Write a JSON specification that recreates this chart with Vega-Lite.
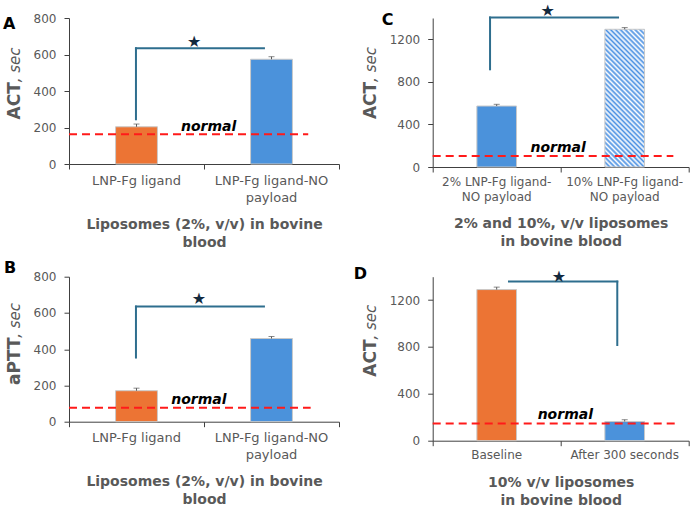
{
  "$schema": "https://vega.github.io/schema/vega-lite/v6.json",
  "background": "white",
  "padding": {"left": 3, "top": 3, "right": 5, "bottom": 3},
  "bounds": "flush",
  "columns": 2,
  "spacing": {"row": 109.7, "column": 93.7},
  "config": {"font": "DejaVu Sans", "view": {"stroke": null}},
  "concat": [
    {
      "width": 270, "height": 146,
      "title": {"text": "A", "anchor": "start", "frame": "group", "fontSize": 16, "fontWeight": "bold", "color": "#000000", "baseline": "top", "offset": 0, "dx": -66, "dy": 19.5},
      "data": {"values": [{"normal": 163}]},
      "resolve": {"scale": {"x": "independent"}, "axis": {"x": "independent", "y": "independent"}},
      "layer": [
        {
          "data": {"values": [
            {"group": "LNP-Fg ligand", "value": 204, "upper": 219},
            {"group": "LNP-Fg ligand-NO payload", "value": 574, "upper": 588}
          ]},
          "mark": {"type": "bar", "stroke": "#C9C9C9", "strokeWidth": 1},
          "encoding": {
            "x": {"field": "group", "type": "nominal", "sort": null,
              "scale": {"domain": ["LNP-Fg ligand", "LNP-Fg ligand-NO payload"], "paddingInner": 0.69, "paddingOuter": 0.345},
              "axis": {"title": ["Liposomes (2%, v/v) in bovine", "blood"], "labelExpr": "datum.value == 'LNP-Fg ligand-NO payload' ? ['LNP-Fg ligand-NO', 'payload'] : datum.value", "labelAngle": 0, "ticks": false, "domainColor": "#404040", "labelFontSize": 13, "labelColor": "#595959", "labelPadding": 10, "labelLineHeight": 17, "titleFontSize": 14, "titleFontWeight": "bold", "titleColor": "#595959", "titlePadding": 13, "titleLineHeight": 18}},
            "y": {"field": "value", "type": "quantitative", "scale": {"domain": [0, 800], "nice": false},
              "axis": {"values": [0, 200, 400, 600, 800], "format": "d", "grid": false, "domainColor": "#404040", "tickColor": "#404040", "tickSize": 5, "labelFontSize": 12, "labelColor": "#595959", "labelPadding": 8, "title": "ACT", "titleFontSize": 17, "titleFontWeight": "bold", "titleColor": "#595959", "titleAngle": 270, "titleAlign": "left", "titleBaseline": "alphabetic", "titleX": -50, "titleY": 101}},
            "color": {"field": "group", "type": "nominal", "scale": {"domain": ["LNP-Fg ligand", "LNP-Fg ligand-NO payload"], "range": ["#EC7434", "#4B92DB"]}, "legend": null}
          }
        },
        {
          "data": {"values": [
            {"group": "LNP-Fg ligand", "value": 204, "upper": 219},
            {"group": "LNP-Fg ligand-NO payload", "value": 574, "upper": 588}
          ]},
          "mark": {"type": "rule", "color": "#595959", "strokeWidth": 1},
          "encoding": {
            "x": {"field": "group", "type": "nominal", "sort": null, "scale": {"domain": ["LNP-Fg ligand", "LNP-Fg ligand-NO payload"], "paddingInner": 0.69, "paddingOuter": 0.345}, "axis": null},
            "y": {"field": "value", "type": "quantitative", "scale": {"domain": [0, 800], "nice": false}, "axis": null},
            "y2": {"field": "upper"}
          }
        },
        {
          "data": {"values": [
            {"group": "LNP-Fg ligand", "value": 204, "upper": 219},
            {"group": "LNP-Fg ligand-NO payload", "value": 574, "upper": 588}
          ]},
          "mark": {"type": "tick", "color": "#595959", "thickness": 1, "size": 6},
          "encoding": {
            "x": {"field": "group", "type": "nominal", "sort": null, "scale": {"domain": ["LNP-Fg ligand", "LNP-Fg ligand-NO payload"], "paddingInner": 0.69, "paddingOuter": 0.345}, "axis": null},
            "y": {"field": "upper", "type": "quantitative", "scale": {"domain": [0, 800], "nice": false}, "axis": null}
          }
        },
        {
          "mark": {"type": "rule", "color": "#FF1A1A", "strokeDash": [8, 5], "strokeWidth": 2},
          "encoding": {
            "x": {"datum": 0, "type": "quantitative", "scale": {"domain": [0, 1], "nice": false}, "axis": {"orient": "bottom", "values": [0, 0.5, 1], "labels": false, "domain": false, "grid": false, "ticks": true, "tickSize": 5, "tickColor": "#404040", "title": null}},
            "x2": {"datum": 0.886},
            "y": {"field": "normal", "type": "quantitative", "scale": {"domain": [0, 800], "nice": false},
              "axis": {"orient": "left", "labels": false, "ticks": false, "domain": false, "grid": false, "title": ", sec", "titleFontSize": 15, "titleFontWeight": "normal", "titleFontStyle": "italic", "titleColor": "#595959", "titleAngle": 270, "titleAlign": "left", "titleBaseline": "alphabetic", "titleX": -50, "titleY": 63.8}}
          }
        },
        {
          "mark": {"type": "text", "text": "normal", "fontSize": 14, "fontWeight": "bold", "fontStyle": "italic", "color": "#000000", "baseline": "alphabetic", "align": "center"},
          "encoding": {
            "x": {"datum": 0.517, "type": "quantitative", "scale": {"domain": [0, 1], "nice": false}, "axis": null},
            "y": {"datum": 182, "type": "quantitative", "scale": {"domain": [0, 800], "nice": false}, "axis": null}
          }
        },
        {
          "mark": {"type": "rule", "color": "#2E6E8E", "strokeWidth": 2, "strokeCap": "square"},
          "encoding": {
            "x": {"datum": 0.248, "type": "quantitative", "scale": {"domain": [0, 1], "nice": false}, "axis": null},
            "y": {"datum": 245, "type": "quantitative", "scale": {"domain": [0, 800], "nice": false}, "axis": null},
            "y2": {"datum": 634}
          }
        },
        {
          "mark": {"type": "rule", "color": "#2E6E8E", "strokeWidth": 2, "strokeCap": "square"},
          "encoding": {
            "x": {"datum": 0.248, "type": "quantitative", "scale": {"domain": [0, 1], "nice": false}, "axis": null},
            "x2": {"datum": 0.722},
            "y": {"datum": 634, "type": "quantitative", "scale": {"domain": [0, 800], "nice": false}, "axis": null}
          }
        },
        {
          "mark": {"type": "text", "text": "★", "fontSize": 16, "color": "#13293D", "baseline": "middle", "align": "center"},
          "encoding": {
            "x": {"datum": 0.464, "type": "quantitative", "scale": {"domain": [0, 1], "nice": false}, "axis": null},
            "y": {"datum": 670, "type": "quantitative", "scale": {"domain": [0, 800], "nice": false}, "axis": null}
          }
        }
      ]
    },
    {
      "width": 256, "height": 149,
      "title": {"text": "C", "anchor": "start", "frame": "group", "fontSize": 16, "fontWeight": "bold", "color": "#000000", "baseline": "top", "offset": 0, "dx": -51, "dy": 24.6},
      "data": {"values": [{"normal": 103}]},
      "resolve": {"scale": {"x": "independent"}, "axis": {"x": "independent", "y": "independent"}},
      "layer": [
        {
          "data": {"values": [
            {"group": "2% LNP-Fg ligand-NO payload", "value": 573, "upper": 589},
            {"group": "10% LNP-Fg ligand-NO payload", "value": 1294, "upper": 1310}
          ]},
          "transform": [{"filter": "datum.group == '2% LNP-Fg ligand-NO payload'"}],
          "mark": {"type": "bar", "stroke": "#C9C9C9", "strokeWidth": 1, "fill": "#4B92DB"},
          "encoding": {
            "x": {"field": "group", "type": "nominal", "sort": null,
              "scale": {"domain": ["2% LNP-Fg ligand-NO payload", "10% LNP-Fg ligand-NO payload"], "paddingInner": 0.69, "paddingOuter": 0.345},
              "axis": {"title": ["2% and 10%, v/v liposomes", "in bovine blood"], "labelExpr": "datum.value == '2% LNP-Fg ligand-NO payload' ? ['2% LNP-Fg ligand-', 'NO payload'] : ['10% LNP-Fg ligand-', 'NO payload']", "labelAngle": 0, "ticks": false, "domainColor": "#404040", "labelFontSize": 12, "labelColor": "#595959", "labelPadding": 9, "labelLineHeight": 15, "titleFontSize": 14, "titleFontWeight": "bold", "titleColor": "#595959", "titlePadding": 14, "titleLineHeight": 18}},
            "y": {"field": "value", "type": "quantitative", "scale": {"domain": [0, 1400], "nice": false},
              "axis": {"values": [0, 400, 800, 1200], "format": "d", "grid": false, "domainColor": "#404040", "tickColor": "#404040", "tickSize": 5, "labelFontSize": 12, "labelColor": "#595959", "labelPadding": 8, "title": "ACT", "titleFontSize": 17, "titleFontWeight": "bold", "titleColor": "#595959", "titleAngle": 270, "titleAlign": "left", "titleBaseline": "alphabetic", "titleX": -57.7, "titleY": 100.6}}
          }
        },
        {
          "data": {"values": [
            {"group": "2% LNP-Fg ligand-NO payload", "value": 573, "upper": 589},
            {"group": "10% LNP-Fg ligand-NO payload", "value": 1294, "upper": 1310}
          ]},
          "transform": [{"filter": "datum.group == '10% LNP-Fg ligand-NO payload'"}],
          "mark": {"type": "bar", "stroke": "#C9C9C9", "strokeWidth": 1,
            "fill": {"gradient": "linear", "x1": 0, "y1": 1, "x2": 0.345, "y2": -0.19, "stops": [
              {"offset": 0, "color": "#4a90e2"}, {"offset": 0.0139, "color": "#fff"}, {"offset": 0.0278, "color": "#4a90e2"}, {"offset": 0.0417, "color": "#fff"},
              {"offset": 0.0556, "color": "#4a90e2"}, {"offset": 0.0694, "color": "#fff"}, {"offset": 0.0833, "color": "#4a90e2"}, {"offset": 0.0972, "color": "#fff"},
              {"offset": 0.1111, "color": "#4a90e2"}, {"offset": 0.125, "color": "#fff"}, {"offset": 0.1389, "color": "#4a90e2"}, {"offset": 0.1528, "color": "#fff"},
              {"offset": 0.1667, "color": "#4a90e2"}, {"offset": 0.1806, "color": "#fff"}, {"offset": 0.1944, "color": "#4a90e2"}, {"offset": 0.2083, "color": "#fff"},
              {"offset": 0.2222, "color": "#4a90e2"}, {"offset": 0.2361, "color": "#fff"}, {"offset": 0.25, "color": "#4a90e2"}, {"offset": 0.2639, "color": "#fff"},
              {"offset": 0.2778, "color": "#4a90e2"}, {"offset": 0.2917, "color": "#fff"}, {"offset": 0.3056, "color": "#4a90e2"}, {"offset": 0.3194, "color": "#fff"},
              {"offset": 0.3333, "color": "#4a90e2"}, {"offset": 0.3472, "color": "#fff"}, {"offset": 0.3611, "color": "#4a90e2"}, {"offset": 0.375, "color": "#fff"},
              {"offset": 0.3889, "color": "#4a90e2"}, {"offset": 0.4028, "color": "#fff"}, {"offset": 0.4167, "color": "#4a90e2"}, {"offset": 0.4306, "color": "#fff"},
              {"offset": 0.4444, "color": "#4a90e2"}, {"offset": 0.4583, "color": "#fff"}, {"offset": 0.4722, "color": "#4a90e2"}, {"offset": 0.4861, "color": "#fff"},
              {"offset": 0.5, "color": "#4a90e2"}, {"offset": 0.5139, "color": "#fff"}, {"offset": 0.5278, "color": "#4a90e2"}, {"offset": 0.5417, "color": "#fff"},
              {"offset": 0.5556, "color": "#4a90e2"}, {"offset": 0.5694, "color": "#fff"}, {"offset": 0.5833, "color": "#4a90e2"}, {"offset": 0.5972, "color": "#fff"},
              {"offset": 0.6111, "color": "#4a90e2"}, {"offset": 0.625, "color": "#fff"}, {"offset": 0.6389, "color": "#4a90e2"}, {"offset": 0.6528, "color": "#fff"},
              {"offset": 0.6667, "color": "#4a90e2"}, {"offset": 0.6806, "color": "#fff"}, {"offset": 0.6944, "color": "#4a90e2"}, {"offset": 0.7083, "color": "#fff"},
              {"offset": 0.7222, "color": "#4a90e2"}, {"offset": 0.7361, "color": "#fff"}, {"offset": 0.75, "color": "#4a90e2"}, {"offset": 0.7639, "color": "#fff"},
              {"offset": 0.7778, "color": "#4a90e2"}, {"offset": 0.7917, "color": "#fff"}, {"offset": 0.8056, "color": "#4a90e2"}, {"offset": 0.8194, "color": "#fff"},
              {"offset": 0.8333, "color": "#4a90e2"}, {"offset": 0.8472, "color": "#fff"}, {"offset": 0.8611, "color": "#4a90e2"}, {"offset": 0.875, "color": "#fff"},
              {"offset": 0.8889, "color": "#4a90e2"}, {"offset": 0.9028, "color": "#fff"}, {"offset": 0.9167, "color": "#4a90e2"}, {"offset": 0.9306, "color": "#fff"},
              {"offset": 0.9444, "color": "#4a90e2"}, {"offset": 0.9583, "color": "#fff"}, {"offset": 0.9722, "color": "#4a90e2"}, {"offset": 0.9861, "color": "#fff"},
              {"offset": 1, "color": "#4a90e2"}
            ]}},
          "encoding": {
            "x": {"field": "group", "type": "nominal", "sort": null, "scale": {"domain": ["2% LNP-Fg ligand-NO payload", "10% LNP-Fg ligand-NO payload"], "paddingInner": 0.69, "paddingOuter": 0.345}, "axis": null},
            "y": {"field": "value", "type": "quantitative", "scale": {"domain": [0, 1400], "nice": false}, "axis": null}
          }
        },
        {
          "data": {"values": [
            {"group": "2% LNP-Fg ligand-NO payload", "value": 573, "upper": 589},
            {"group": "10% LNP-Fg ligand-NO payload", "value": 1294, "upper": 1310}
          ]},
          "mark": {"type": "rule", "color": "#595959", "strokeWidth": 1},
          "encoding": {
            "x": {"field": "group", "type": "nominal", "sort": null, "scale": {"domain": ["2% LNP-Fg ligand-NO payload", "10% LNP-Fg ligand-NO payload"], "paddingInner": 0.69, "paddingOuter": 0.345}, "axis": null},
            "y": {"field": "value", "type": "quantitative", "scale": {"domain": [0, 1400], "nice": false}, "axis": null},
            "y2": {"field": "upper"}
          }
        },
        {
          "data": {"values": [
            {"group": "2% LNP-Fg ligand-NO payload", "value": 573, "upper": 589},
            {"group": "10% LNP-Fg ligand-NO payload", "value": 1294, "upper": 1310}
          ]},
          "mark": {"type": "tick", "color": "#595959", "thickness": 1, "size": 6},
          "encoding": {
            "x": {"field": "group", "type": "nominal", "sort": null, "scale": {"domain": ["2% LNP-Fg ligand-NO payload", "10% LNP-Fg ligand-NO payload"], "paddingInner": 0.69, "paddingOuter": 0.345}, "axis": null},
            "y": {"field": "upper", "type": "quantitative", "scale": {"domain": [0, 1400], "nice": false}, "axis": null}
          }
        },
        {
          "mark": {"type": "rule", "color": "#FF1A1A", "strokeDash": [8, 5], "strokeWidth": 2},
          "encoding": {
            "x": {"datum": 0, "type": "quantitative", "scale": {"domain": [0, 1], "nice": false}, "axis": {"orient": "bottom", "values": [0, 0.5, 1], "labels": false, "domain": false, "grid": false, "ticks": true, "tickSize": 5, "tickColor": "#404040", "title": null}},
            "x2": {"datum": 0.94},
            "y": {"field": "normal", "type": "quantitative", "scale": {"domain": [0, 1400], "nice": false},
              "axis": {"orient": "left", "labels": false, "ticks": false, "domain": false, "grid": false, "title": ", sec", "titleFontSize": 15, "titleFontWeight": "normal", "titleFontStyle": "italic", "titleColor": "#595959", "titleAngle": 270, "titleAlign": "left", "titleBaseline": "alphabetic", "titleX": -57.7, "titleY": 63.4}}
          }
        },
        {
          "mark": {"type": "text", "text": "normal", "fontSize": 14, "fontWeight": "bold", "fontStyle": "italic", "color": "#000000", "baseline": "alphabetic", "align": "center"},
          "encoding": {
            "x": {"datum": 0.49, "type": "quantitative", "scale": {"domain": [0, 1], "nice": false}, "axis": null},
            "y": {"datum": 141, "type": "quantitative", "scale": {"domain": [0, 1400], "nice": false}, "axis": null}
          }
        },
        {
          "mark": {"type": "rule", "color": "#2E6E8E", "strokeWidth": 2, "strokeCap": "square"},
          "encoding": {
            "x": {"datum": 0.224, "type": "quantitative", "scale": {"domain": [0, 1], "nice": false}, "axis": null},
            "y": {"datum": 918, "type": "quantitative", "scale": {"domain": [0, 1400], "nice": false}, "axis": null},
            "y2": {"datum": 1404}
          }
        },
        {
          "mark": {"type": "rule", "color": "#2E6E8E", "strokeWidth": 2, "strokeCap": "square"},
          "encoding": {
            "x": {"datum": 0.224, "type": "quantitative", "scale": {"domain": [0, 1], "nice": false}, "axis": null},
            "x2": {"datum": 0.724},
            "y": {"datum": 1404, "type": "quantitative", "scale": {"domain": [0, 1400], "nice": false}, "axis": null}
          }
        },
        {
          "mark": {"type": "text", "text": "★", "fontSize": 16, "color": "#13293D", "baseline": "middle", "align": "center"},
          "encoding": {
            "x": {"datum": 0.449, "type": "quantitative", "scale": {"domain": [0, 1], "nice": false}, "axis": null},
            "y": {"datum": 1463, "type": "quantitative", "scale": {"domain": [0, 1400], "nice": false}, "axis": null}
          }
        }
      ]
    },
    {
      "width": 270, "height": 145,
      "title": {"text": "B", "anchor": "start", "frame": "group", "fontSize": 16, "fontWeight": "bold", "color": "#000000", "baseline": "top", "offset": 0, "dx": -65, "dy": 5.5},
      "data": {"values": [{"normal": 77}]},
      "resolve": {"scale": {"x": "independent"}, "axis": {"x": "independent", "y": "independent"}},
      "layer": [
        {
          "data": {"values": [
            {"group": "LNP-Fg ligand", "value": 171, "upper": 185},
            {"group": "LNP-Fg ligand-NO payload", "value": 459, "upper": 470}
          ]},
          "mark": {"type": "bar", "stroke": "#C9C9C9", "strokeWidth": 1},
          "encoding": {
            "x": {"field": "group", "type": "nominal", "sort": null,
              "scale": {"domain": ["LNP-Fg ligand", "LNP-Fg ligand-NO payload"], "paddingInner": 0.69, "paddingOuter": 0.345},
              "axis": {"title": ["Liposomes (2%, v/v) in bovine", "blood"], "labelExpr": "datum.value == 'LNP-Fg ligand-NO payload' ? ['LNP-Fg ligand-NO', 'payload'] : datum.value", "labelAngle": 0, "ticks": false, "domainColor": "#404040", "labelFontSize": 13, "labelColor": "#595959", "labelPadding": 10, "labelLineHeight": 17, "titleFontSize": 14, "titleFontWeight": "bold", "titleColor": "#595959", "titlePadding": 13, "titleLineHeight": 18}},
            "y": {"field": "value", "type": "quantitative", "scale": {"domain": [0, 800], "nice": false},
              "axis": {"values": [0, 200, 400, 600, 800], "format": "d", "grid": false, "domainColor": "#404040", "tickColor": "#404040", "tickSize": 5, "labelFontSize": 12, "labelColor": "#595959", "labelPadding": 8, "title": "aPTT", "titleFontSize": 17, "titleFontWeight": "bold", "titleColor": "#595959", "titleAngle": 270, "titleAlign": "left", "titleBaseline": "alphabetic", "titleX": -49.7, "titleY": 107.7}},
            "color": {"field": "group", "type": "nominal", "scale": {"domain": ["LNP-Fg ligand", "LNP-Fg ligand-NO payload"], "range": ["#EC7434", "#4B92DB"]}, "legend": null}
          }
        },
        {
          "data": {"values": [
            {"group": "LNP-Fg ligand", "value": 171, "upper": 185},
            {"group": "LNP-Fg ligand-NO payload", "value": 459, "upper": 470}
          ]},
          "mark": {"type": "rule", "color": "#595959", "strokeWidth": 1},
          "encoding": {
            "x": {"field": "group", "type": "nominal", "sort": null, "scale": {"domain": ["LNP-Fg ligand", "LNP-Fg ligand-NO payload"], "paddingInner": 0.69, "paddingOuter": 0.345}, "axis": null},
            "y": {"field": "value", "type": "quantitative", "scale": {"domain": [0, 800], "nice": false}, "axis": null},
            "y2": {"field": "upper"}
          }
        },
        {
          "data": {"values": [
            {"group": "LNP-Fg ligand", "value": 171, "upper": 185},
            {"group": "LNP-Fg ligand-NO payload", "value": 459, "upper": 470}
          ]},
          "mark": {"type": "tick", "color": "#595959", "thickness": 1, "size": 6},
          "encoding": {
            "x": {"field": "group", "type": "nominal", "sort": null, "scale": {"domain": ["LNP-Fg ligand", "LNP-Fg ligand-NO payload"], "paddingInner": 0.69, "paddingOuter": 0.345}, "axis": null},
            "y": {"field": "upper", "type": "quantitative", "scale": {"domain": [0, 800], "nice": false}, "axis": null}
          }
        },
        {
          "mark": {"type": "rule", "color": "#FF1A1A", "strokeDash": [8, 5], "strokeWidth": 2},
          "encoding": {
            "x": {"datum": 0, "type": "quantitative", "scale": {"domain": [0, 1], "nice": false}, "axis": {"orient": "bottom", "values": [0, 0.5, 1], "labels": false, "domain": false, "grid": false, "ticks": true, "tickSize": 5, "tickColor": "#404040", "title": null}},
            "x2": {"datum": 0.895},
            "y": {"field": "normal", "type": "quantitative", "scale": {"domain": [0, 800], "nice": false},
              "axis": {"orient": "left", "labels": false, "ticks": false, "domain": false, "grid": false, "title": ", sec", "titleFontSize": 15, "titleFontWeight": "normal", "titleFontStyle": "italic", "titleColor": "#595959", "titleAngle": 270, "titleAlign": "left", "titleBaseline": "alphabetic", "titleX": -49.7, "titleY": 60.6}}
          }
        },
        {
          "mark": {"type": "text", "text": "normal", "fontSize": 14, "fontWeight": "bold", "fontStyle": "italic", "color": "#000000", "baseline": "alphabetic", "align": "center"},
          "encoding": {
            "x": {"datum": 0.481, "type": "quantitative", "scale": {"domain": [0, 1], "nice": false}, "axis": null},
            "y": {"datum": 97, "type": "quantitative", "scale": {"domain": [0, 800], "nice": false}, "axis": null}
          }
        },
        {
          "mark": {"type": "rule", "color": "#2E6E8E", "strokeWidth": 2, "strokeCap": "square"},
          "encoding": {
            "x": {"datum": 0.248, "type": "quantitative", "scale": {"domain": [0, 1], "nice": false}, "axis": null},
            "y": {"datum": 354, "type": "quantitative", "scale": {"domain": [0, 800], "nice": false}, "axis": null},
            "y2": {"datum": 635}
          }
        },
        {
          "mark": {"type": "rule", "color": "#2E6E8E", "strokeWidth": 2, "strokeCap": "square"},
          "encoding": {
            "x": {"datum": 0.248, "type": "quantitative", "scale": {"domain": [0, 1], "nice": false}, "axis": null},
            "x2": {"datum": 0.722},
            "y": {"datum": 635, "type": "quantitative", "scale": {"domain": [0, 800], "nice": false}, "axis": null}
          }
        },
        {
          "mark": {"type": "text", "text": "★", "fontSize": 16, "color": "#13293D", "baseline": "middle", "align": "center"},
          "encoding": {
            "x": {"datum": 0.481, "type": "quantitative", "scale": {"domain": [0, 1], "nice": false}, "axis": null},
            "y": {"datum": 675, "type": "quantitative", "scale": {"domain": [0, 800], "nice": false}, "axis": null}
          }
        }
      ]
    },
    {
      "width": 256, "height": 164,
      "title": {"text": "D", "anchor": "start", "frame": "group", "fontSize": 16, "fontWeight": "bold", "color": "#000000", "baseline": "top", "offset": 0, "dx": -79, "dy": 13},
      "data": {"values": [{"normal": 147}]},
      "resolve": {"scale": {"x": "independent"}, "axis": {"x": "independent", "y": "independent"}},
      "layer": [
        {
          "data": {"values": [
            {"group": "Baseline", "value": 1290, "upper": 1311},
            {"group": "After 300 seconds", "value": 164, "upper": 179}
          ]},
          "mark": {"type": "bar", "stroke": "#C9C9C9", "strokeWidth": 1},
          "encoding": {
            "x": {"field": "group", "type": "nominal", "sort": null,
              "scale": {"domain": ["Baseline", "After 300 seconds"], "paddingInner": 0.69, "paddingOuter": 0.345},
              "axis": {"title": ["10% v/v liposomes", "in bovine blood"], "labelAngle": 0, "ticks": false, "domainColor": "#404040", "labelFontSize": 12, "labelColor": "#595959", "labelPadding": 9, "titleFontSize": 14, "titleFontWeight": "bold", "titleColor": "#595959", "titlePadding": 15, "titleLineHeight": 18}},
            "y": {"field": "value", "type": "quantitative", "scale": {"domain": [0, 1400], "nice": false},
              "axis": {"values": [0, 400, 800, 1200], "format": "d", "grid": false, "domainColor": "#404040", "tickColor": "#404040", "tickSize": 5, "labelFontSize": 12, "labelColor": "#595959", "labelPadding": 8, "title": "ACT", "titleFontSize": 17, "titleFontWeight": "bold", "titleColor": "#595959", "titleAngle": 270, "titleAlign": "left", "titleBaseline": "alphabetic", "titleX": -57.7, "titleY": 99.5}},
            "color": {"field": "group", "type": "nominal", "scale": {"domain": ["Baseline", "After 300 seconds"], "range": ["#EC7434", "#4B92DB"]}, "legend": null}
          }
        },
        {
          "data": {"values": [
            {"group": "Baseline", "value": 1290, "upper": 1311},
            {"group": "After 300 seconds", "value": 164, "upper": 179}
          ]},
          "mark": {"type": "rule", "color": "#595959", "strokeWidth": 1},
          "encoding": {
            "x": {"field": "group", "type": "nominal", "sort": null, "scale": {"domain": ["Baseline", "After 300 seconds"], "paddingInner": 0.69, "paddingOuter": 0.345}, "axis": null},
            "y": {"field": "value", "type": "quantitative", "scale": {"domain": [0, 1400], "nice": false}, "axis": null},
            "y2": {"field": "upper"}
          }
        },
        {
          "data": {"values": [
            {"group": "Baseline", "value": 1290, "upper": 1311},
            {"group": "After 300 seconds", "value": 164, "upper": 179}
          ]},
          "mark": {"type": "tick", "color": "#595959", "thickness": 1, "size": 6},
          "encoding": {
            "x": {"field": "group", "type": "nominal", "sort": null, "scale": {"domain": ["Baseline", "After 300 seconds"], "paddingInner": 0.69, "paddingOuter": 0.345}, "axis": null},
            "y": {"field": "upper", "type": "quantitative", "scale": {"domain": [0, 1400], "nice": false}, "axis": null}
          }
        },
        {
          "mark": {"type": "rule", "color": "#FF1A1A", "strokeDash": [8, 5], "strokeWidth": 2},
          "encoding": {
            "x": {"datum": 0, "type": "quantitative", "scale": {"domain": [0, 1], "nice": false}, "axis": {"orient": "bottom", "values": [0, 0.5, 1], "labels": false, "domain": false, "grid": false, "ticks": true, "tickSize": 5, "tickColor": "#404040", "title": null}},
            "x2": {"datum": 0.946},
            "y": {"field": "normal", "type": "quantitative", "scale": {"domain": [0, 1400], "nice": false},
              "axis": {"orient": "left", "labels": false, "ticks": false, "domain": false, "grid": false, "title": ", sec", "titleFontSize": 15, "titleFontWeight": "normal", "titleFontStyle": "italic", "titleColor": "#595959", "titleAngle": 270, "titleAlign": "left", "titleBaseline": "alphabetic", "titleX": -57.7, "titleY": 62.3}}
          }
        },
        {
          "mark": {"type": "text", "text": "normal", "fontSize": 14, "fontWeight": "bold", "fontStyle": "italic", "color": "#000000", "baseline": "alphabetic", "align": "center"},
          "encoding": {
            "x": {"datum": 0.518, "type": "quantitative", "scale": {"domain": [0, 1], "nice": false}, "axis": null},
            "y": {"datum": 181, "type": "quantitative", "scale": {"domain": [0, 1400], "nice": false}, "axis": null}
          }
        },
        {
          "mark": {"type": "rule", "color": "#2E6E8E", "strokeWidth": 2, "strokeCap": "square"},
          "encoding": {
            "x": {"datum": 0.721, "type": "quantitative", "scale": {"domain": [0, 1], "nice": false}, "axis": null},
            "y": {"datum": 817, "type": "quantitative", "scale": {"domain": [0, 1400], "nice": false}, "axis": null},
            "y2": {"datum": 1358}
          }
        },
        {
          "mark": {"type": "rule", "color": "#2E6E8E", "strokeWidth": 2, "strokeCap": "square"},
          "encoding": {
            "x": {"datum": 0.298, "type": "quantitative", "scale": {"domain": [0, 1], "nice": false}, "axis": null},
            "x2": {"datum": 0.721},
            "y": {"datum": 1358, "type": "quantitative", "scale": {"domain": [0, 1400], "nice": false}, "axis": null}
          }
        },
        {
          "mark": {"type": "text", "text": "★", "fontSize": 16, "color": "#13293D", "baseline": "middle", "align": "center"},
          "encoding": {
            "x": {"datum": 0.493, "type": "quantitative", "scale": {"domain": [0, 1], "nice": false}, "axis": null},
            "y": {"datum": 1398, "type": "quantitative", "scale": {"domain": [0, 1400], "nice": false}, "axis": null}
          }
        }
      ]
    }
  ]
}
